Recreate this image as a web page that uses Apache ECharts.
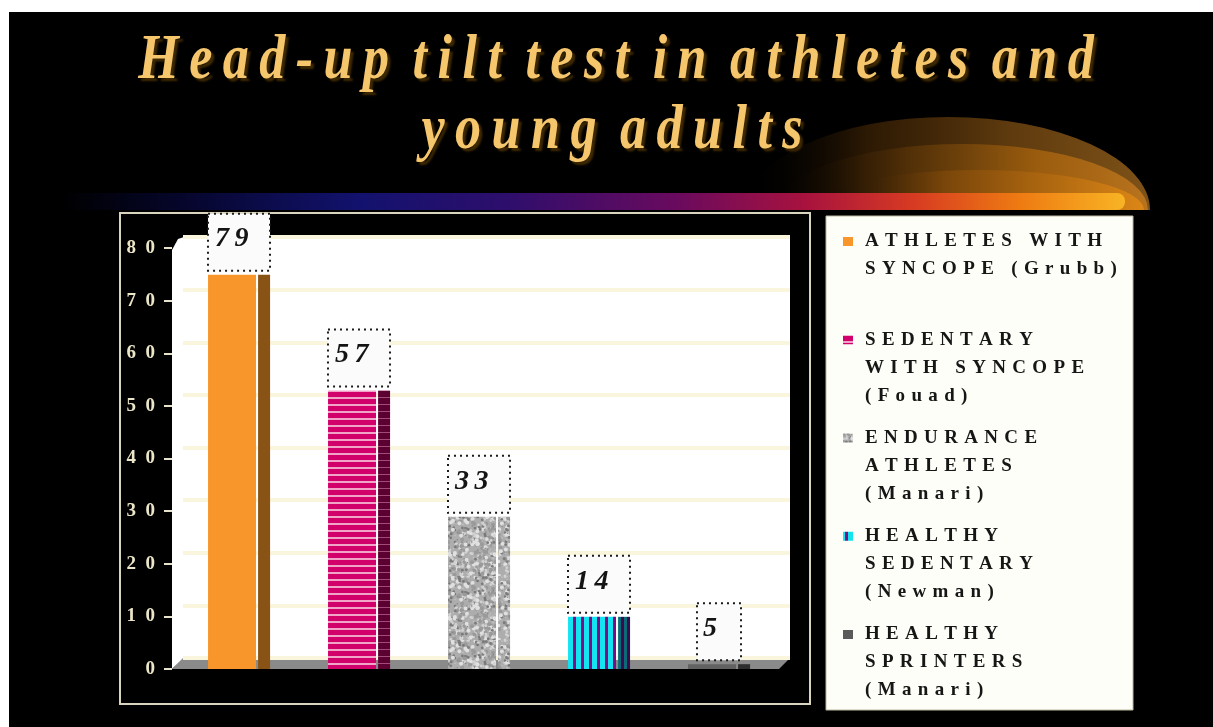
<!DOCTYPE html>
<html><head><meta charset="utf-8">
<script src="https://cdn.jsdelivr.net/npm/echarts@6/dist/echarts.min.js"></script>
<style>html,body{margin:0;padding:0;background:#fff;}#c{width:1213px;height:727px;}</style>
</head><body><div id="c"></div>
<script>
// ---------------- data ----------------
const titleLines = ['Head-up tilt test in athletes and', 'young adults'];
const categories = ['ATHLETES WITH SYNCOPE (Grubb)', 'SEDENTARY WITH SYNCOPE (Fouad)', 'ENDURANCE ATHLETES (Manari)', 'HEALTHY SEDENTARY (Newman)', 'HEALTHY SPRINTERS (Manari)'];
const legendLines = [
  ['ATHLETES WITH', 'SYNCOPE (Grubb)'],
  ['SEDENTARY', 'WITH SYNCOPE', '(Fouad)'],
  ['ENDURANCE', 'ATHLETES', '(Manari)'],
  ['HEALTHY', 'SEDENTARY', '(Newman)'],
  ['HEALTHY', 'SPRINTERS', '(Manari)']
];
const values = [79, 57, 33, 14, 5];
const yMin = 0, yMax = 80, yStep = 10;

// ---------------- helpers ----------------
const SERIF = '"Liberation Serif", "Times New Roman", serif';
function spaced(s, sep, wordSep) {
  return s.split(' ').map(w => w.split('').join(sep)).join(wordSep);
}
function makeCanvas(w, h, draw) {
  const c = document.createElement('canvas'); c.width = w; c.height = h;
  draw(c.getContext('2d')); return c;
}
function pat(c) { return { image: c, repeat: 'repeat' }; }

const pinkFront = pat(makeCanvas(8, 7, g => { g.fillStyle = '#d2006a'; g.fillRect(0, 0, 8, 7); g.fillStyle = '#f0a4c8'; g.fillRect(0, 5, 8, 2); }));
const pinkSide = pat(makeCanvas(8, 7, g => { g.fillStyle = '#5c0032'; g.fillRect(0, 0, 8, 7); g.fillStyle = '#a24a78'; g.fillRect(0, 5, 8, 1); }));
const cyanFront = pat(makeCanvas(8, 8, g => { g.fillStyle = '#12e4f2'; g.fillRect(0, 0, 8, 8); g.fillStyle = '#7c0c86'; g.fillRect(5, 0, 3, 8); }));
const cyanSide = pat(makeCanvas(6, 6, g => { g.fillStyle = '#0a6a78'; g.fillRect(0, 0, 6, 6); g.fillStyle = '#3a0a4a'; g.fillRect(3, 0, 3, 6); }));
const speckle = pat(makeCanvas(64, 64, g => {
  g.fillStyle = '#adadad'; g.fillRect(0, 0, 64, 64);
  let s = 12345;
  const rnd = () => { s = (s * 1103515245 + 12345) & 0x7fffffff; return s / 0x7fffffff; };
  const cols = ['#8a8a8a', '#d2d2d2', '#9a9a9a', '#c2c2c2', '#7a7a7a', '#e0e0e0'];
  for (let k = 0; k < 520; k++) {
    g.fillStyle = cols[k % cols.length];
    g.beginPath(); g.arc(rnd() * 64, rnd() * 64, 0.8 + (k % 3) * 0.6, 0, Math.PI * 2); g.fill();
  }
}));

const barStyles = [
  { front: '#f8962c', side: '#8a5316' },
  { front: pinkFront, side: pinkSide },
  { front: speckle, side: speckle },
  { front: cyanFront, side: cyanSide },
  { front: '#626262', side: '#2e2e2e' }
];

// ---------------- layout ----------------
const GRID = { left: 179, right: 434, top: 248, bottom: 58 };
const DX = 11, DY = 11;              // 3D depth of back wall
const BACK = { left: GRID.left + 4, right: GRID.right - DX, top: GRID.top - DY, bottom: GRID.bottom + DY };

function renderItem(params, api) {
  const i = api.value(0), v = api.value(1);
  const p0 = api.coord([i, 0]);
  const p1 = api.coord([i, v]);
  const band = api.size([1, 0])[0];
  const frontW = band * 0.4, gap = band * 0.017, sideW = band * 0.1;
  const left = p0[0] - band * 0.258;
  const labelY = p1[1] - DY;
  const boxH = 57;
  const txt = String(v);
  const boxW = txt.length > 1 ? band * 0.517 : band * 0.367;
  const boxTop = labelY - boxH / 2;
  const barTop = Math.min(p0[1] - 1, labelY + boxH / 2 + 4);
  const st = barStyles[i];
  return {
    type: 'group',
    children: [
      { type: 'rect', shape: { x: left + frontW + gap, y: barTop, width: sideW, height: p0[1] - barTop }, style: { fill: st.side } },
      { type: 'rect', shape: { x: left, y: barTop, width: frontW, height: p0[1] - barTop }, style: { fill: st.front } },
      { type: 'rect', shape: { x: p0[0] - boxW / 2, y: boxTop, width: boxW, height: boxH }, style: { fill: '#fbfbfb', stroke: '#1a1a1a', lineWidth: 2, lineDash: [2, 4] } },
      { type: 'text', x: p0[0] - boxW / 2 + (txt.length > 1 ? 7 : 6), y: labelY - 3,
        style: { text: txt.split('').join('\u2009'), font: 'italic bold 28px ' + SERIF, fill: '#141414', align: 'left', verticalAlign: 'middle' } }
    ]
  };
}

// ---------------- decorations ----------------
const G = [];
G.push({ type: 'rect', z: 0, shape: { x: 9, y: 12, width: 1204, height: 715 }, style: { fill: '#000' } });
// orange glow
[
  { cx: 948, r: 202, ry: 93, stops: [[0, 'rgba(0,0,0,0)'], [0.3, 'rgba(60,34,5,0.75)'], [0.65, '#5e3a0e'], [1, '#7e5218']] },
  { cx: 962, r: 186, ry: 66, stops: [[0, 'rgba(0,0,0,0)'], [0.35, 'rgba(96,56,8,0.6)'], [0.7, '#9a5c0e'], [1, '#b8731e']] },
  { cx: 978, r: 166, ry: 40, stops: [[0, 'rgba(0,0,0,0)'], [0.4, 'rgba(130,74,10,0.7)'], [1, '#dc8616']] }
].forEach((L, k) => {
  G.push({ type: 'sector', z: 1, x: L.cx, y: 210, scaleY: L.ry / L.r,
    shape: { cx: 0, cy: 0, r: L.r, r0: 0, startAngle: Math.PI, endAngle: 2 * Math.PI, clockwise: true },
    style: { fill: { type: 'linear', x: 0, y: 0, x2: 1, y2: 0, colorStops: L.stops.map(s => ({ offset: s[0], color: s[1] })) } } });
});
// colour band
G.push({ type: 'rect', z: 2, shape: { x: 60, y: 193, width: 1065, height: 17, r: [0, 8, 8, 0] },
  style: { fill: { type: 'linear', x: 0, y: 0, x2: 1, y2: 0, colorStops: [
    { offset: 0, color: '#000000' }, { offset: 0.12, color: '#06062e' }, { offset: 0.28, color: '#12126e' },
    { offset: 0.42, color: '#2e0e6c' }, { offset: 0.58, color: '#6a0a5e' }, { offset: 0.7, color: '#a8123e' },
    { offset: 0.8, color: '#d63a22' }, { offset: 0.9, color: '#ee7a12' }, { offset: 1, color: '#f8b424' }] } } });
// title
titleLines.forEach((t, k) => {
  G.push({ type: 'text', z: 3, x: 616 - k * 4, y: k === 0 ? 61 : 131, scaleX: 0.815,
    style: { text: spaced(t, '\u2009', ' \u2009'), font: 'italic bold 64px ' + SERIF, fill: '#f6c66c',
      align: 'center', verticalAlign: 'middle', textShadowColor: '#3e2800', textShadowOffsetX: 3, textShadowOffsetY: 3, textShadowBlur: 2 } });
});
// chart frame
G.push({ type: 'rect', z: 1, shape: { x: 120, y: 213, width: 690, height: 491 }, style: { fill: '#000', stroke: '#d8d4be', lineWidth: 2 } });
// walls & floor
const W = 1213, H = 727;
const fx0 = GRID.left - 7, fy0 = H - GRID.bottom, fyTop = GRID.top;
const bx0 = BACK.left, bx1 = W - BACK.right, by0 = H - BACK.bottom, byTop = BACK.top;
G.push({ type: 'rect', z: 2, shape: { x: bx0, y: byTop, width: bx1 - bx0, height: by0 - byTop }, style: { fill: '#ffffff' } });
G.push({ type: 'polygon', z: 2, shape: { points: [[fx0, fyTop + 2], [fx0 + 6, byTop + 2], [bx0 + 1, byTop], [bx0 + 1, by0], [fx0, fy0]] }, style: { fill: '#ffffff' } });
G.push({ type: 'polygon', z: 3, shape: { points: [[fx0, fy0], [bx0, by0], [bx1, by0], [bx1 - DX, fy0]] }, style: { fill: '#8a8a8a' } });
// legend box
G.push({ type: 'rect', z: 2, shape: { x: 826, y: 216, width: 307, height: 494 }, style: { fill: '#fefef8', stroke: '#bdb8a0', lineWidth: 1 } });
const legendMarkers = ['#f8962c', pinkFront, speckle, cyanFront, '#5a5a5a'];
legendLines.forEach((lines, i) => {
  const y0 = 241.5 + i * 98.25;
  G.push({ type: 'rect', z: 3, shape: { x: 843, y: y0 - 4.5, width: 10, height: 9 }, style: { fill: legendMarkers[i] } });
  lines.forEach((ln, j) => {
    G.push({ type: 'text', z: 3, x: 865, y: y0 + j * 28,
      style: { text: spaced(ln, '\u2004', '\u2004 \u2004'), font: 'bold 19px ' + SERIF, fill: '#161616', align: 'left', verticalAlign: 'middle' } });
  });
});

// ---------------- chart ----------------
const chart = echarts.init(document.getElementById('c'), null, { renderer: 'canvas', width: 1213, height: 727 });
chart.setOption({
  backgroundColor: '#ffffff',
  animation: false,
  grid: [
    { left: GRID.left, right: GRID.right, top: GRID.top, bottom: GRID.bottom },
    { left: BACK.left, right: BACK.right, top: BACK.top, bottom: BACK.bottom }
  ],
  xAxis: [
    { type: 'category', data: categories, gridIndex: 0, show: false },
    { type: 'category', data: categories, gridIndex: 1, show: false }
  ],
  yAxis: [
    { type: 'value', gridIndex: 0, min: yMin, max: yMax, interval: yStep, offset: 7, z: 5,
      axisLine: { show: false },
      axisTick: { show: true, length: 8, lineStyle: { color: '#e6e2cc', width: 2 } },
      axisLabel: { margin: 17, color: '#ece6c8', fontFamily: SERIF, fontWeight: 'bold', fontSize: 19,
        formatter: v => String(v).split('').join('\u2002') },
      splitLine: { show: false } },
    { type: 'value', gridIndex: 1, min: yMin, max: yMax, interval: yStep, z: 5,
      axisLine: { show: false }, axisTick: { show: false }, axisLabel: { show: false },
      splitLine: { show: true, lineStyle: { color: '#faf6de', width: 4 } } }
  ],
  graphic: G,
  series: [{
    type: 'custom', name: 'Head-up tilt positive', xAxisIndex: 0, yAxisIndex: 0, z: 6,
    renderItem: renderItem, encode: { x: 0, y: 1 },
    data: values.map((v, i) => [i, v])
  }]
});
</script></body></html>
